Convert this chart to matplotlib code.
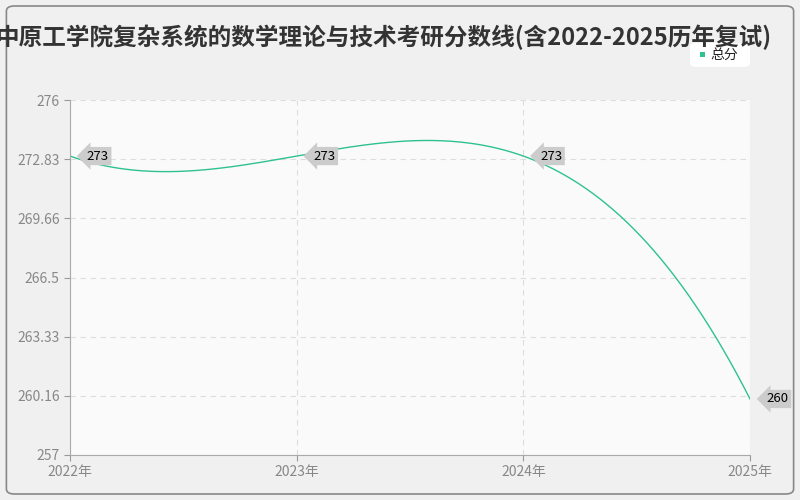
import matplotlib
matplotlib.use("Agg")
import matplotlib.pyplot as plt
import numpy as np
from matplotlib.patches import FancyBboxPatch

plt.rcParams['font.family'] = ['Noto Sans CJK SC', 'DejaVu Sans']

years = ['2022年', '2023年', '2024年', '2025年']
scores = [273, 273, 273, 260]
labels = ['273', '273', '273', '260']
yticks = [257, 260.16, 263.33, 266.5, 269.66, 272.83, 276]

fig = plt.figure(figsize=(8, 5), dpi=100)
fig.patch.set_facecolor('#f0f0f0')
bg = FancyBboxPatch((0.008, 0.012), 0.984, 0.976, boxstyle="round,pad=0,rounding_size=0.01",
                    transform=fig.transFigure, facecolor='#f0f0f0', edgecolor='#888888', lw=1.2, zorder=-5)
fig.patches.append(bg)
ax = fig.add_axes([70/800, 45/500, 680/800, 355/500])
ax.set_facecolor('#fafafa')
x = np.arange(len(scores))
coef = np.polyfit(x, scores, 3)
xs = np.linspace(0, 3, 300)
ax.plot(xs, np.polyval(coef, xs), color='#2ec28f', lw=1)
ax.set_xlim(0, 3)
ax.set_ylim(257, 276)
ax.set_xticks(x)
ax.set_xticklabels(years)
ax.set_yticks(yticks)
ax.set_yticklabels(['257', '260.16', '263.33', '266.5', '269.66', '272.83', '276'])
ax.tick_params(colors='#999999', labelsize=10, length=4)
for t in ax.get_xticklabels() + ax.get_yticklabels():
    t.set_color('#888888')
ax.grid(True, color='#dddddd', linestyle=(0, (5, 4)), lw=0.8)
for s in ['top', 'right']:
    ax.spines[s].set_visible(False)
ax.spines['left'].set_color('#aaaaaa')
ax.spines['bottom'].set_color('#aaaaaa')
for xi, v, l in zip(x, scores, labels):
    ax.annotate(l, (xi, v), xytext=(12, 0), textcoords='offset points', va='center', ha='left',
                fontsize=9.5, color='black',
                bbox=dict(boxstyle='larrow,pad=0.2', fc='#cccccc', ec='none'), annotation_clip=False)
fig.text(0.48, 0.925, '中原工学院复杂系统的数学理论与技术考研分数线(含2022-2025历年复试)',
         ha='center', va='center', fontsize=17, fontweight='bold', color='#333333')
fig.patches.append(FancyBboxPatch((690/800, 433/500), 60/800, 24/500, boxstyle="round,pad=0,rounding_size=0.008",
                                  transform=fig.transFigure, facecolor='white', edgecolor='none'))
fig.patches.append(plt.Rectangle((700/800, 443/500), 5/800, 5/500, transform=fig.transFigure,
                                 facecolor='#2ec28f', edgecolor='none'))
fig.text(710/800, 445/500, '总分', fontsize=10, va='center', ha='left', color='#222222')
fig.savefig('out.png', dpi=100, facecolor=fig.get_facecolor())
